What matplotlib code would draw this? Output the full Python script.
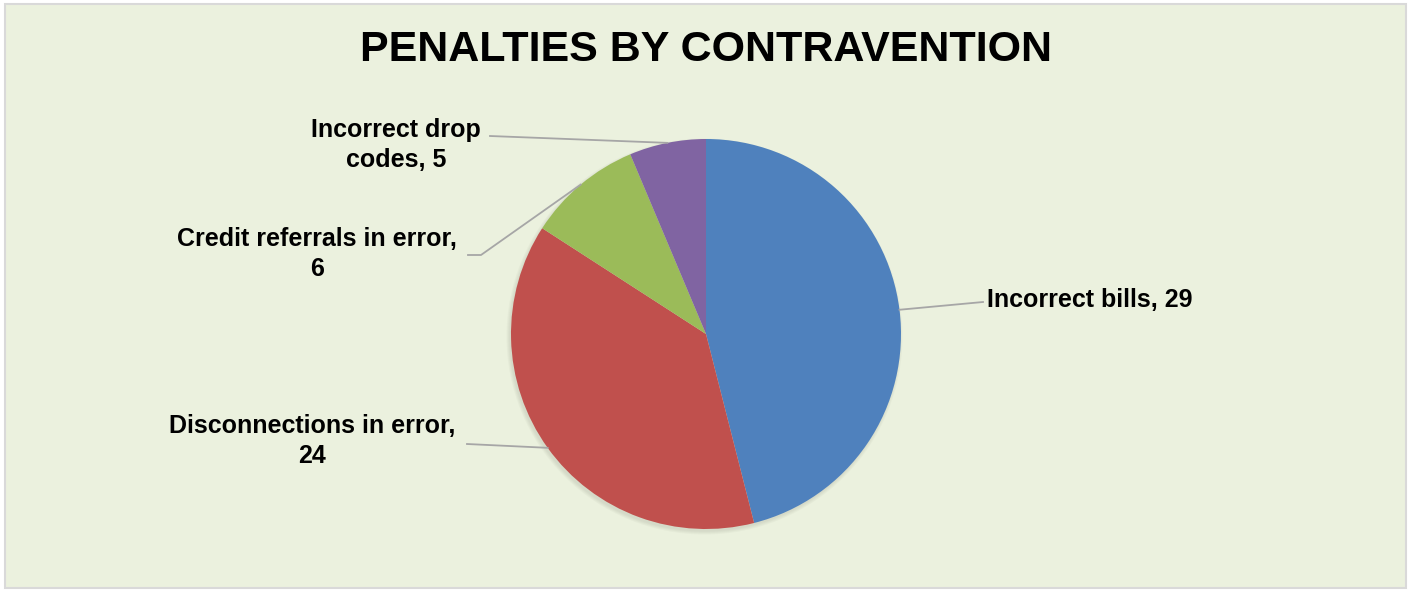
import numpy as np
import matplotlib.pyplot as plt
from matplotlib.patches import Rectangle, Circle

# data
categories = ['Incorrect bills', 'Disconnections in error', 'Credit referrals in error', 'Incorrect drop codes']
slice_values = [29, 24, 6, 4]   # slice sizes as drawn in the picture
label_values = [29, 24, 6, 5]   # numbers printed in the data labels
label_text = ['Incorrect bills, 29', 'Disconnections in error,\n24', 'Credit referrals in error,\n6', 'Incorrect drop\ncodes, 5']
colors = ['#4F81BD', '#C0504D', '#9BBB59', '#8064A2']

W, H = 1411, 591
fig = plt.figure(figsize=(W / 100, H / 100), dpi=100, facecolor='white')
ax = fig.add_axes([0, 0, 1, 1])

# chart area
ax.add_patch(Rectangle((5, 3), W - 10, H - 7, facecolor='#EBF1DE', edgecolor='#D9D9D9', lw=1.5, zorder=0))

cx, cy, r = 706, H - 334, 195
# soft shadow under the pie
for k in range(4):
    ax.add_patch(Circle((cx - 1.5, cy - 2.5), r + 3 - k, facecolor='#9A9E8E', alpha=0.07, lw=0, zorder=1))

wedges, _ = ax.pie(slice_values, colors=colors, startangle=90, counterclock=False,
                   center=(cx, cy), radius=r, frame=True,
                   wedgeprops=dict(linewidth=0, zorder=2))
ax.set_xlim(0, W)
ax.set_ylim(0, H)
ax.set_aspect('equal')
ax.axis('off')

fnt = dict(family=['Liberation Sans', 'DejaVu Sans'], fontweight='bold', fontsize=18, color='black')

# label positions (pixel coords from top) and leader line end points
text_pos = [(987, 300, 'left'), (312, 441, 'center'), (317, 254, 'center'), (396, 145, 'center')]
line_ends = [[(983, 302)], [(467, 444)], [(481, 255), (468, 255)], [(490, 136)]]

for w, txt, (tx, ty, ha), ends in zip(wedges, label_text, text_pos, line_ends):
    mid = np.deg2rad((w.theta1 + w.theta2) / 2)
    ax_pt = (cx + r * np.cos(mid), cy + r * np.sin(mid))
    xs = [ax_pt[0]] + [e[0] for e in ends]
    ys = [ax_pt[1]] + [H - e[1] for e in ends]
    ax.plot(xs, ys, color='#A6A6A6', lw=1.3, zorder=3)
    ax.text(tx, H - ty, txt, ha=ha, va='center', multialignment='center', linespacing=1.28, **fnt)

ax.text(706, H - 50, 'PENALTIES BY CONTRAVENTION', ha='center', va='center',
        family=['Liberation Sans', 'DejaVu Sans'], fontweight='bold', fontsize=31)

fig.savefig('out.png', dpi=100, facecolor='white')
